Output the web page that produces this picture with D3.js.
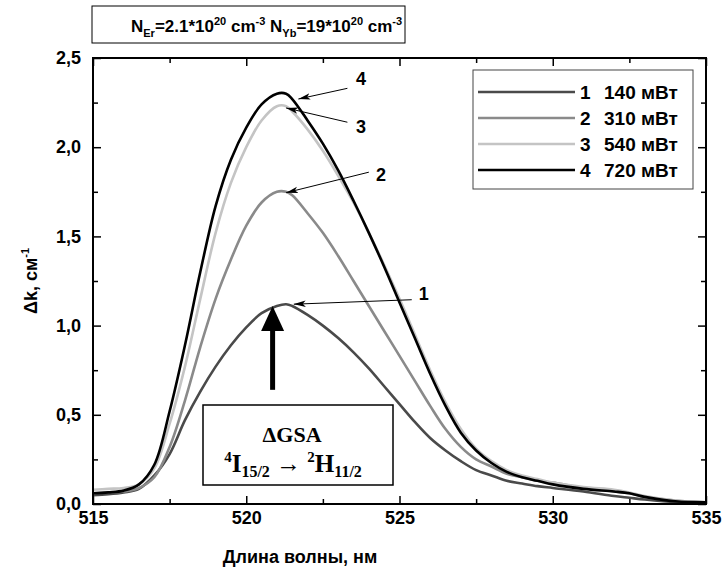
<!DOCTYPE html>
<html>
<head>
<meta charset="utf-8">
<script src="https://cdn.jsdelivr.net/npm/d3@7"></script>
<style>
  html, body { margin: 0; padding: 0; background: #fff; }
  svg { display: block; }
  text { font-family: Arial, "Liberation Sans", sans-serif; font-weight: bold; fill: #000; }
  .serif { font-family: "Times New Roman", "Liberation Serif", serif; }
</style>
</head>
<body>
<svg id="chart" width="726" height="575"></svg>
<script>
// Wavelength grid (nm)
const wavelengths = [515,515.5,516,516.5,517,517.5,518,518.5,519,519.5,520,520.5,521,521.3,521.5,522,522.5,523,523.5,524,524.5,525,525.5,526,526.5,527,527.5,528,528.5,529,529.5,530,531,532,532.5,533,534,535];

// Induced absorption change Δk (cm^-1) at each pump power
const series1 = [0.05,0.055,0.065,0.085,0.16,0.28,0.47,0.63,0.77,0.89,0.99,1.07,1.11,1.12,1.11,1.06,1.00,0.93,0.85,0.76,0.66,0.56,0.46,0.37,0.30,0.24,0.19,0.16,0.13,0.115,0.10,0.09,0.07,0.045,0.035,0.025,0.01,0.005];
const series2 = [0.06,0.065,0.07,0.09,0.15,0.32,0.58,0.88,1.15,1.37,1.56,1.69,1.75,1.75,1.73,1.63,1.52,1.39,1.25,1.11,0.97,0.83,0.69,0.55,0.42,0.32,0.25,0.21,0.17,0.15,0.13,0.12,0.09,0.07,0.06,0.04,0.02,0.01];
const series3 = [0.08,0.085,0.09,0.11,0.20,0.45,0.77,1.15,1.52,1.80,2.00,2.15,2.23,2.23,2.20,2.10,1.98,1.84,1.69,1.52,1.34,1.15,0.95,0.75,0.57,0.42,0.31,0.24,0.19,0.16,0.14,0.12,0.095,0.08,0.065,0.045,0.02,0.01];
const series4 = [0.06,0.065,0.075,0.11,0.22,0.52,0.89,1.30,1.67,1.93,2.11,2.24,2.30,2.30,2.27,2.15,2.02,1.87,1.70,1.52,1.33,1.13,0.93,0.73,0.55,0.40,0.30,0.23,0.18,0.15,0.13,0.11,0.085,0.07,0.06,0.04,0.015,0.01];

const seriesNumbers = ["1","2","3","4"];
const seriesPowers = ["140 мВт","310 мВт","540 мВт","720 мВт"];
const seriesColors = ["#4a4a4a","#8a8a8a","#c4c4c4","#000000"];

const xTicks = [515,520,525,530,535];
const xMinorTicks = [517.5,522.5,527.5,532.5];
const yTicks = [0,0.5,1.0,1.5,2.0,2.5];
const yMinorTicks = [0.25,0.75,1.25,1.75,2.25];

// Curve labels: label anchor and arrow target, in data units [λ, Δk]
const curveLabels = [
  {text:"4", label:[523.45,2.39], from:[523.3,2.33], to:[521.7,2.27]},
  {text:"3", label:[523.45,2.12], from:[523.3,2.14], to:[521.3,2.22]},
  {text:"2", label:[524.1,1.85],  from:[524.0,1.86], to:[521.3,1.745]},
  {text:"1", label:[525.5,1.18],  from:[525.4,1.145], to:[521.55,1.12]}
];
// GSA arrow: from base up to the peak of curve 1
const gsaArrow = {x:520.86, yFrom:0.64, yTo:1.11};

const svg = d3.select("#chart");
const plot = {left:93, right:706, top:58, bottom:504};

const x = d3.scaleLinear().domain([515,535]).range([plot.left, plot.right]);
const y = d3.scaleLinear().domain([0,2.5]).range([plot.bottom, plot.top]);

const fmtY = d => d3.format(".1f")(d).replace(".", ",");

// ----- Axes (ticks point inward on all four sides)
function styleAxis(g) {
  g.select(".domain").remove();
  g.selectAll(".tick line").attr("stroke","#000").attr("stroke-width",1.5);
  g.selectAll(".tick text").style("font-size","18px").style("font-weight","bold").attr("fill","#000");
}

svg.append("g").attr("transform",`translate(0,${plot.bottom})`)
  .call(d3.axisBottom(x).tickValues(xTicks).tickSize(-8).tickSizeOuter(0).tickPadding(7).tickFormat(d3.format("d")))
  .call(styleAxis);
svg.append("g").attr("transform",`translate(0,${plot.bottom})`)
  .call(d3.axisBottom(x).tickValues(xMinorTicks).tickSize(-5).tickSizeOuter(0).tickFormat(""))
  .call(styleAxis);
svg.append("g").attr("transform",`translate(0,${plot.top})`)
  .call(d3.axisTop(x).tickValues(xTicks).tickSize(-8).tickSizeOuter(0).tickFormat(""))
  .call(styleAxis);
svg.append("g").attr("transform",`translate(0,${plot.top})`)
  .call(d3.axisTop(x).tickValues(xMinorTicks).tickSize(-5).tickSizeOuter(0).tickFormat(""))
  .call(styleAxis);

svg.append("g").attr("transform",`translate(${plot.left},0)`)
  .call(d3.axisLeft(y).tickValues(yTicks).tickSize(-8).tickSizeOuter(0).tickPadding(12).tickFormat(fmtY))
  .call(styleAxis);
svg.append("g").attr("transform",`translate(${plot.left},0)`)
  .call(d3.axisLeft(y).tickValues(yMinorTicks).tickSize(-5).tickSizeOuter(0).tickFormat(""))
  .call(styleAxis);
svg.append("g").attr("transform",`translate(${plot.right},0)`)
  .call(d3.axisRight(y).tickValues(yTicks).tickSize(-8).tickSizeOuter(0).tickFormat(""))
  .call(styleAxis);
svg.append("g").attr("transform",`translate(${plot.right},0)`)
  .call(d3.axisRight(y).tickValues(yMinorTicks).tickSize(-5).tickSizeOuter(0).tickFormat(""))
  .call(styleAxis);

// ----- Curves
const allSeries = [series1, series2, series3, series4];
const line = d3.line()
  .x((d,i) => x(wavelengths[i]))
  .y(d => y(d))
  .curve(d3.curveCatmullRom.alpha(0.5));

svg.append("g").selectAll("path").data(allSeries).join("path")
  .attr("d", d => line(d))
  .attr("fill","none")
  .attr("stroke",(d,i) => seriesColors[i])
  .attr("stroke-width",2.6)
  .attr("stroke-linejoin","round");

// Plot frame
svg.append("rect")
  .attr("x",plot.left).attr("y",plot.top)
  .attr("width",plot.right-plot.left).attr("height",plot.bottom-plot.top)
  .attr("fill","none").attr("stroke","#000").attr("stroke-width",2);

// ----- Axis titles
svg.append("text")
  .attr("x",300).attr("y",563)
  .attr("text-anchor","middle").style("font-size","18px")
  .text("Длина волны, нм");

const yTitle = svg.append("text")
  .attr("transform","translate(37,281) rotate(-90)")
  .attr("text-anchor","middle").style("font-size","18px");
yTitle.append("tspan").text("Δk, см");
yTitle.append("tspan").attr("dy",-8).style("font-size","11px").text("-1");

// ----- Concentration box
svg.append("rect").attr("x",92).attr("y",6).attr("width",313).attr("height",37)
  .attr("fill","#fff").attr("stroke","#000").attr("stroke-width",1);
const title = svg.append("text").attr("x",131).attr("y",32).style("font-size","17px");
const tparts = [
  ["N",0,17],["Er",5,11],["=2.1*10",-5,17],["20",-7,11],[" cm",7,17],["-3",-7,11],
  [" N",7,17],["Yb",5,11],["=19*10",-5,17],["20",-7,11],[" cm",7,17],["-3",-7,11]
];
tparts.forEach(([t,dy,fs]) => title.append("tspan").attr("dy",dy).style("font-size",fs+"px").text(t));

// ----- Legend
const legend = svg.append("g");
legend.append("rect").attr("x",473).attr("y",70).attr("width",220).attr("height",119)
  .attr("fill","#fff").attr("stroke","#444").attr("stroke-width",1);
const legendRows = legend.selectAll("g.row").data(seriesNumbers).join("g")
  .attr("transform",(d,i) => `translate(0,${92 + i*26})`);
legendRows.append("line").attr("x1",478).attr("x2",575).attr("y1",0).attr("y2",0)
  .attr("stroke",(d,i) => seriesColors[i]).attr("stroke-width",2.6);
legendRows.append("text").attr("x",580).attr("y",7).style("font-size","19px").text(d => d);
legendRows.append("text").attr("x",604).attr("y",7).style("font-size","19px").text((d,i) => seriesPowers[i]);

// ----- Curve number labels with arrows
const defs = svg.append("defs");
defs.append("marker").attr("id","head").attr("viewBox","0 0 12 8")
  .attr("refX",12).attr("refY",4).attr("markerWidth",12).attr("markerHeight",8)
  .attr("markerUnits","userSpaceOnUse").attr("orient","auto")
  .append("path").attr("d","M0,0.8 L12,4 L0,7.2 L3,4 Z").attr("fill","#000");

const lab = svg.append("g");
lab.selectAll("line").data(curveLabels).join("line")
  .attr("x1",d => x(d.from[0])).attr("y1",d => y(d.from[1]))
  .attr("x2",d => x(d.to[0])).attr("y2",d => y(d.to[1]))
  .attr("stroke","#000").attr("stroke-width",1)
  .attr("marker-end","url(#head)");
lab.selectAll("text").data(curveLabels).join("text")
  .attr("x",d => x(d.label[0]) + 4).attr("y",d => y(d.label[1]) + 7)
  .style("font-size","18px").text(d => d.text);

// ----- GSA arrow
const ax = x(gsaArrow.x), ay0 = y(gsaArrow.yFrom), ay1 = y(gsaArrow.yTo);
svg.append("line").attr("x1",ax).attr("x2",ax).attr("y1",ay0).attr("y2",ay1 + 22)
  .attr("stroke","#000").attr("stroke-width",5);
svg.append("path")
  .attr("d",`M${ax},${ay1} L${ax-11.5},${ay1+25} L${ax+11.5},${ay1+25} Z`)
  .attr("fill","#000");

// ----- GSA box
svg.append("rect").attr("x",203).attr("y",405).attr("width",190).attr("height",80)
  .attr("fill","#fff").attr("stroke","#000").attr("stroke-width",1.5);
svg.append("text").attr("class","serif").attr("x",292).attr("y",442)
  .attr("text-anchor","middle").style("font-size","22px").text("ΔGSA");
const trans = svg.append("text").attr("class","serif").attr("x",293).attr("y",472)
  .attr("text-anchor","middle").style("font-size","25px");
[
  ["4",-10,15],["I",10,25],["15/2",5,16],[" → ",-5,25],["2",-10,15],["H",10,25],["11/2",5,16]
].forEach(([t,dy,fs]) => trans.append("tspan").attr("dy",dy).style("font-size",fs+"px").text(t));
</script>
</body>
</html>
